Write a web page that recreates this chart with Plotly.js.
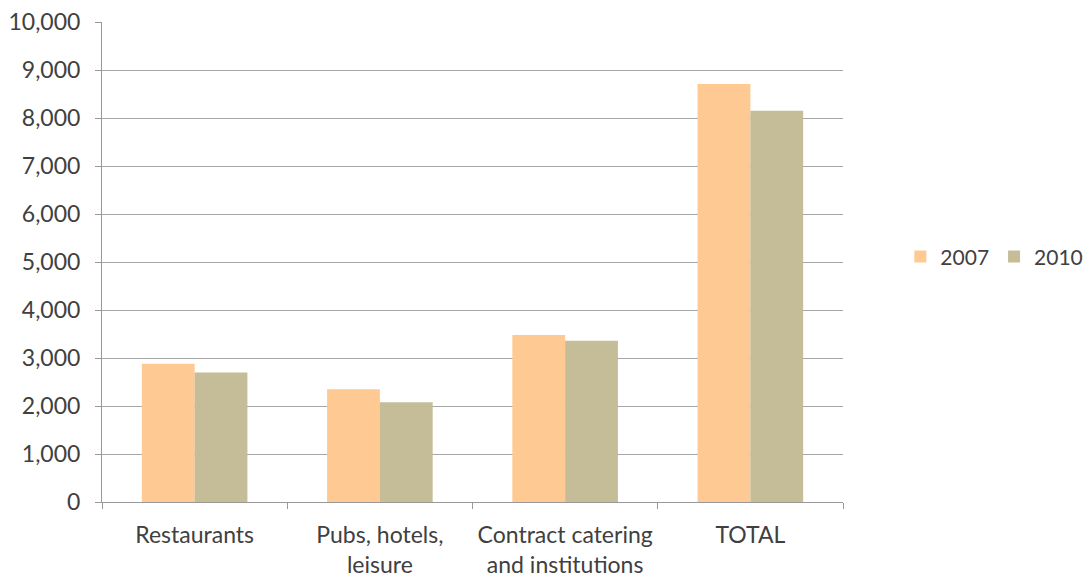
<!DOCTYPE html>
<html><head><meta charset="utf-8">
<script src="https://cdn.plot.ly/plotly-3.0.1.min.js"></script>
<style>html,body{margin:0;padding:0;background:#fff}#chart{width:1090px;height:581px}</style>
</head><body><div id="chart"></div>
<script>
const categories = ["Restaurants", "Pubs, hotels,<br>leisure", "Contract catering<br>and institutions", "TOTAL"];
const values2007 = [2880, 2350, 3480, 8710];
const values2010 = [2700, 2080, 3360, 8150];
const seriesNames = ["2007", "2010"];
const yTickVals = [0,1000,2000,3000,4000,5000,6000,7000,8000,9000,10000];

const font = {family: "Lato, 'Open Sans', sans-serif", size: 23, color: "#404040"};
const legendFont = {family: "Lato, 'Open Sans', sans-serif", size: 21, color: "#404040"};
const traces = [
  {type: "bar", name: seriesNames[0], x: categories, y: values2007, marker: {color: "#FFC993"}},
  {type: "bar", name: seriesNames[1], x: categories, y: values2010, marker: {color: "#C4BD97"}}
];
const layout = {
  width: 1090, height: 581,
  margin: {l: 102, r: 247, t: 22, b: 79, pad: 0, autoexpand: false},
  paper_bgcolor: "#fff", plot_bgcolor: "#fff",
  font: font,
  barmode: "group", bargap: 0.43, bargroupgap: 0,
  showlegend: true,
  legend: {orientation: "h", xref: "container", yref: "container", x: 0.826, xanchor: "left", y: 0.558, yanchor: "middle", font: legendFont, traceorder: "normal", itemwidth: 30, tracegroupgap: 0},
  xaxis: {
    type: "category", showline: true, linecolor: "#999", linewidth: 1,
    ticks: "outside", tickson: "boundaries", ticklen: 6, tickcolor: "#999",
    showgrid: false, tickfont: font, automargin: false, ticklabelstandoff: 12
  },
  yaxis: {
    range: [0, 10000], tickvals: yTickVals, tickformat: ",d",
    showline: true, linecolor: "#999", linewidth: 1,
    ticks: "outside", ticklen: 6, tickcolor: "#999",
    showgrid: true, gridcolor: "#A6A6A6", gridwidth: 1, zeroline: false,
    tickfont: font, automargin: false, ticklabelstandoff: 10
  }
};
Plotly.newPlot("chart", traces, layout, {displayModeBar: false, staticPlot: true});
</script></body></html>
